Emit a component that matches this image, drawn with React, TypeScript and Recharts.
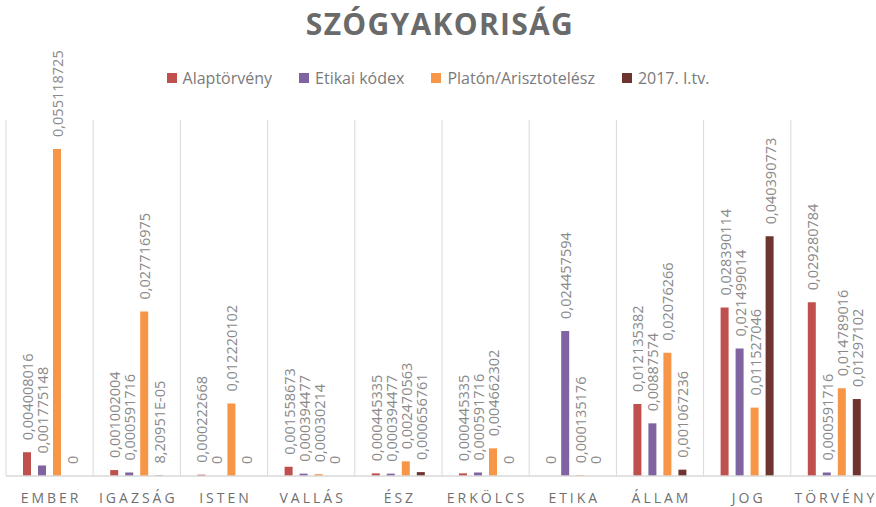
import { Bar, BarChart, CartesianGrid, LabelList, Legend, XAxis, YAxis } from "recharts";

const categories = ["EMBER", "IGAZSÁG", "ISTEN", "VALLÁS", "ÉSZ", "ERKÖLCS", "ETIKA", "ÁLLAM", "JOG", "TÖRVÉNY"];

const alaptorveny = [0.004008016, 0.001002004, 0.000222668, 0.001558673, 0.000445335, 0.000445335, 0, 0.012135382, 0.028390114, 0.029280784];
const etikaiKodex = [0.001775148, 0.000591716, 0, 0.000394477, 0.000394477, 0.000591716, 0.024457594, 0.00887574, 0.021499014, 0.000591716];
const platon = [0.055118725, 0.027716975, 0.012220102, 0.00030214, 0.002470563, 0.004662302, 0.000135176, 0.02076266, 0.011527046, 0.014789016];
const itv2017 = [0, 0.0000820951, 0, 0, 0.000656761, 0, 0, 0.001067236, 0.040390773, 0.01297102];

const seriesNames = ["Alaptörvény", "Etikai kódex", "Platón/Arisztotelész", "2017. I.tv."];
const seriesColors = ["#C0504D", "#8064A2", "#F79646", "#6E3530"];
const seriesValues = [alaptorveny, etikaiKodex, platon, itv2017];

const data = categories.map((name, i) => {
  const row: Record<string, string | number> = { name };
  seriesNames.forEach((s, j) => {
    row[s] = seriesValues[j][i];
  });
  return row;
});

const FONT = "'Open Sans', 'Liberation Sans', sans-serif";

// Excel "General" style: comma decimal, max 11 chars, E notation for tiny values
function formatValue(v: number) {
  if (v === 0) return "0";
  if (v < 0.0001) {
    const [m, e] = v.toExponential(5).split("e");
    const exp = Math.abs(Number(e)).toString().padStart(2, "0");
    return `${m.replace(".", ",")}E${Number(e) < 0 ? "-" : "+"}${exp}`;
  }
  return v.toFixed(9).replace(/0+$/, "").replace(".", ",");
}

const renderValueLabel = (props: any) => {
  const { x, y, width, height, value } = props;
  const cx = Number(x) + Number(width) / 2 + 0.5;
  // zero bars get a tiny min size so their labels still show; anchor at the real top
  const top = Number(value) === 0 ? Number(y) + Number(height) : Number(y);
  const ty = top - 12;
  return (
    <text
      x={cx}
      y={ty}
      transform={`rotate(-90 ${cx} ${ty})`}
      textAnchor="start"
      dominantBaseline="central"
      fontSize={14.5}
      fontFamily={FONT}
      fill="#898989"
    >
      {formatValue(Number(value))}
    </text>
  );
};

const renderTick = (props: any) => {
  const { x, y, payload } = props;
  return (
    <text x={x + 1.5} y={y + 19} textAnchor="middle" fontSize={14} letterSpacing={3} fontFamily={FONT} fill="#6f6f6f">
      {payload.value}
    </text>
  );
};

const renderLegend = () => (
  <div
    style={{
      display: "flex",
      justifyContent: "center",
      fontFamily: FONT,
      fontSize: 16,
      lineHeight: "24px",
      color: "#7a7a7a",
    }}
  >
    {seriesNames.map((n, i) => (
      <div key={n} style={{ display: "flex", alignItems: "center", marginRight: i < seriesNames.length - 1 ? 27 : 0 }}>
        <span style={{ display: "inline-block", width: 10, height: 10, background: seriesColors[i], marginRight: 6 }} />
        {n}
      </div>
    ))}
  </div>
);

export default function App() {
  return (
    <div style={{ position: "absolute", left: 0, top: 0, width: 876, height: 507, overflow: "hidden", background: "#fff" }}>
      <svg width={876} height={60} style={{ position: "absolute", left: 0, top: 0 }}>
        <text x={440} y={35} textAnchor="middle" fontSize={30} fontWeight={700} letterSpacing={1.3} fontFamily={FONT} fill="#6a6a6a">
          SZÓGYAKORISÁG
        </text>
      </svg>
      <BarChart
        width={878}
        height={507}
        data={data}
        margin={{ top: 120, right: 0, left: 6, bottom: 1 }}
        barSize={8}
        barGap={7}
      >
        <CartesianGrid
          horizontal={false}
          stroke="#d9d9d9"
          verticalCoordinatesGenerator={({ offset }: any) =>
            Array.from({ length: categories.length + 1 }, (_, i) => offset.left + (i * offset.width) / categories.length)
          }
        />
        <XAxis
          dataKey="name"
          height={30}
          tickLine={false}
          axisLine={{ stroke: "#d9d9d9", strokeWidth: 1.5 }}
          tick={renderTick}
          interval={0}
        />
        <YAxis hide domain={[0, 0.06]} />
        <Legend
          layout="horizontal"
          verticalAlign="middle"
          align="center"
          content={renderLegend}
          wrapperStyle={{ top: 66, left: 0, width: 876 }}
        />
        {seriesNames.map((s, i) => (
          <Bar
            key={s}
            dataKey={s}
            fill={seriesColors[i]}
            isAnimationActive={false}
            minPointSize={(v: any) => (Number(v) === 0 ? 0.01 : 0)}
          >
            <LabelList dataKey={s} content={renderValueLabel} />
          </Bar>
        ))}
      </BarChart>
    </div>
  );
}
